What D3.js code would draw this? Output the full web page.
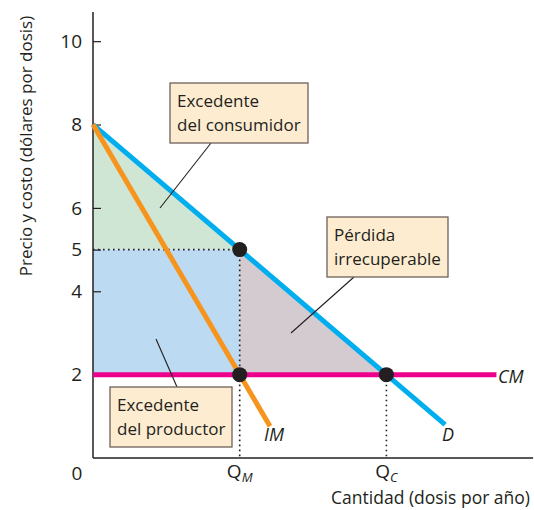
<!DOCTYPE html>
<html><head><meta charset="utf-8">
<script src="https://cdn.jsdelivr.net/npm/d3@7"></script>
<style>body{margin:0;background:#fff}svg{display:block}text{font-family:"Open Sans",sans-serif;fill:#231f20}</style>
</head><body>
<script>
// Data
const yTicks = [2, 4, 5, 6, 8, 10];
const demand = [{q: 0, p: 8}, {q: 7.2, p: 0.8}];          // D
const marginalRevenue = [{q: 0, p: 8}, {q: 3.62, p: 0.76}]; // IM
const marginalCost = [{q: 0, p: 2}, {q: 8.25, p: 2}];     // CM
const qM = 3, pM = 5, qC = 6, pC = 2;
const consumerSurplus = [{q: 0, p: 8}, {q: 3, p: 5}, {q: 0, p: 5}];
const producerSurplus = [{q: 0, p: 5}, {q: 3, p: 5}, {q: 3, p: 2}, {q: 0, p: 2}];
const deadweight = [{q: 3, p: 5}, {q: 6, p: 2}, {q: 3, p: 2}];
const points = [{q: 3, p: 5}, {q: 3, p: 2}, {q: 6, p: 2}];

const W = 534, H = 510;
const svg = d3.select("body").append("svg").attr("width", W).attr("height", H);
const x = d3.scaleLinear().domain([0, 9]).range([93, 93 + 9 * 48.9]);
const y = d3.scaleLinear().domain([0, 10.7]).range([458, 12]);

const area = d3.line().x(d => x(d.q)).y(d => y(d.p));
svg.append("path").attr("d", area(consumerSurplus) + "Z").attr("fill", "#cfe6d5");
svg.append("path").attr("d", area(producerSurplus) + "Z").attr("fill", "#bcdbf2");
svg.append("path").attr("d", area(deadweight) + "Z").attr("fill", "#d3cbd0");

// dotted guides
function dline(x1, y1, x2, y2) {
  svg.append("line").attr("x1", x1).attr("y1", y1).attr("x2", x2).attr("y2", y2)
    .attr("stroke", "#231f20").attr("stroke-width", 1.6).attr("stroke-dasharray", "1.6,3.4");
}
dline(x(0), y(pM), x(qM), y(pM));
dline(x(qM), y(pM), x(qM), y(0));
dline(x(qC), y(pC), x(qC), y(0));

// axes
const yAxis = d3.axisLeft(y).tickValues(yTicks).tickSize(-8).tickPadding(11).tickFormat(d3.format("d"));
const gy = svg.append("g").attr("transform", `translate(${x(0)},0)`).call(yAxis);
gy.select(".domain").remove();
gy.selectAll(".tick line").attr("stroke", "#231f20").attr("stroke-width", 1.2);
gy.selectAll(".tick text").attr("font-size", 19).attr("font-family", "Open Sans").attr("fill", "#231f20");
svg.append("line").attr("x1", x(0)).attr("x2", x(0)).attr("y1", y(10.7)).attr("y2", y(0)).attr("stroke", "#231f20").attr("stroke-width", 1.5);
svg.append("line").attr("x1", x(0)).attr("x2", x(9)).attr("y1", y(0)).attr("y2", y(0)).attr("stroke", "#231f20").attr("stroke-width", 1.5);
svg.append("text").attr("x", 77).attr("y", 480).attr("text-anchor", "middle").attr("font-size", 19).text("0");

// curves
const line = d3.line().x(d => x(d.q)).y(d => y(d.p));
svg.append("path").attr("d", line(marginalCost)).attr("stroke", "#ec008c").attr("stroke-width", 5).attr("fill", "none");
svg.append("path").attr("d", line(demand)).attr("stroke", "#00aeef").attr("stroke-width", 5).attr("fill", "none");
svg.append("path").attr("d", line(marginalRevenue)).attr("stroke", "#f7941d").attr("stroke-width", 5).attr("fill", "none");

svg.selectAll("circle.pt").data(points).enter().append("circle")
  .attr("cx", d => x(d.q)).attr("cy", d => y(d.p)).attr("r", 7.5).attr("fill", "#231f20");

// curve labels
function ital(t, xx, yy) { svg.append("text").attr("x", xx).attr("y", yy).attr("font-size", 18).attr("font-style", "italic").text(t); }
ital("CM", 498, 383);
ital("IM", 264, 441);
ital("D", 442, 441);

// Q labels
function qlab(sub, q) {
  const t = svg.append("text").attr("x", x(q)).attr("y", 478).attr("text-anchor", "middle").attr("font-size", 19);
  t.append("tspan").text("Q");
  t.append("tspan").attr("font-style", "italic").attr("font-size", 13).attr("dy", 4).text(sub);
}
qlab("M", qM);
qlab("C", qC);

// axis titles
svg.append("text").attr("x", 530).attr("y", 504).attr("text-anchor", "end").attr("font-size", 17.5).text("Cantidad (dosis por año)");
svg.append("text").attr("transform", "translate(32,146) rotate(-90)").attr("text-anchor", "middle").attr("font-size", 17).text("Precio y costo (dólares por dosis)");

// annotation boxes
function box(bx, by, bw, bh, lines, lx1, ly1, lx2, ly2) {
  svg.append("line").attr("x1", lx1).attr("y1", ly1).attr("x2", lx2).attr("y2", ly2).attr("stroke", "#231f20").attr("stroke-width", 1.1);
  svg.append("rect").attr("x", bx).attr("y", by).attr("width", bw).attr("height", bh)
    .attr("fill", "#fdecd0").attr("stroke", "#6d6259").attr("stroke-width", 1.3);
  lines.forEach((t, i) => svg.append("text").attr("x", bx + 7).attr("y", by + 24 + i * 24).attr("font-size", 17).text(t));
}
box(170, 83, 138, 60, ["Excedente", "del consumidor"], 211, 143, 160, 208);
box(327, 217, 121, 60, ["Pérdida", "irrecuperable"], 354, 277, 291, 333);
box(110, 387, 122, 60, ["Excedente", "del productor"], 177, 387, 156, 339);
</script>
</body></html>
